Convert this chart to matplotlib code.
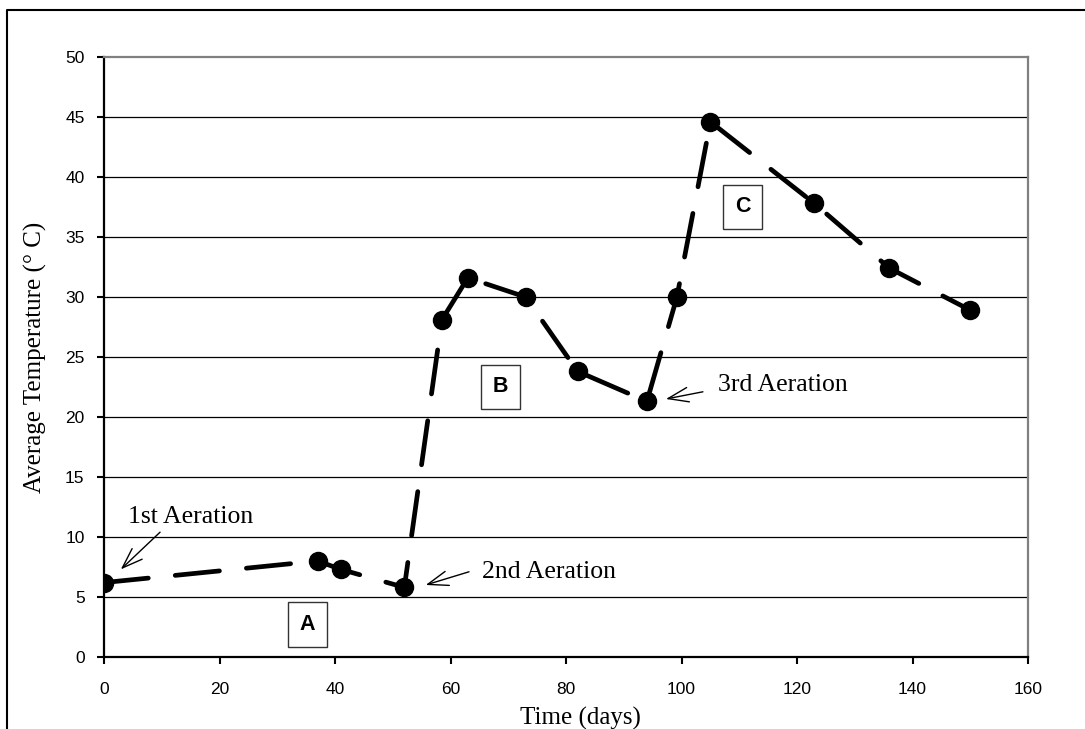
import matplotlib.pyplot as plt
from matplotlib.lines import Line2D

# average pile temperature over the composting run
days = [0, 37, 41, 52, 58.5, 63, 73, 82, 94, 99.2, 105, 123, 136, 150]
temperature = [6.2, 8.0, 7.3, 5.8, 28.1, 31.6, 30.0, 23.8, 21.3, 30.0, 44.6, 37.8, 32.4, 28.9]

# aeration events: (label, text x, text y, arrow tail, arrow head)
aerations = [
    ("1st Aeration", 4.2, 11.7, (9.7, 10.4), (2.9, 7.3)),
    ("2nd Aeration", 65.5, 7.1, (63.2, 7.1), (55.7, 6.0)),
    ("3rd Aeration", 106.3, 22.7, (103.7, 22.1), (97.3, 21.5)),
]

# phase markers
phases = ["A", "B", "C"]
phase_x = [35.2, 68.7, 110.6]
phase_y = [2.7, 22.5, 37.5]

x_ticks = list(range(0, 161, 20))
y_ticks = list(range(0, 51, 5))

plt.rcParams["lines.scale_dashes"] = False

fig = plt.figure(figsize=(10.85, 7.29), dpi=100)
ax = fig.add_axes([0.0959, 0.0988, 0.8516, 0.8230])

for y in y_ticks[1:-1]:
    ax.axhline(y, color="black", linewidth=0.9, zorder=1)

ax.plot(
    days,
    temperature,
    color="black",
    linewidth=3.4,
    linestyle=(0, (32, 19.5)),
    dash_capstyle="round",
    marker="o",
    markersize=13,
    zorder=3,
)

ax.set_xlim(0, 160)
ax.set_ylim(0, 50)
ax.set_xticks(x_ticks)
ax.set_yticks(y_ticks)
ax.tick_params(
    direction="out", length=5, width=1.5, color="black", labelsize=12.5,
    labelfontfamily="Liberation Sans",
)
ax.tick_params(axis="y", pad=9)
ax.tick_params(axis="x", pad=13)

for side in ["left", "bottom"]:
    ax.spines[side].set_color("black")
    ax.spines[side].set_linewidth(1.6)
for side in ["top", "right"]:
    ax.spines[side].set_color("#808080")
    ax.spines[side].set_linewidth(1.6)

ax.set_xlabel("Time (days)", family="Liberation Serif", fontsize=18)
ax.xaxis.set_label_coords(0.516, -0.083, transform=ax.transAxes)
ax.xaxis.label.set_va("top")
ax.set_ylabel("Average Temperature (° C)", family="Liberation Serif", fontsize=18, labelpad=13)

for label, tx, ty, tail, head in aerations:
    ax.text(tx, ty, label, family="Liberation Serif", fontsize=18.5, va="center", ha="left")
    ax.annotate(
        "",
        xy=head,
        xytext=tail,
        arrowprops=dict(
            arrowstyle="->,head_length=0.7,head_width=0.25",
            color="black",
            linewidth=1.0,
            mutation_scale=21,
            shrinkA=0,
            shrinkB=0,
        ),
    )

for name, px, py in zip(phases, phase_x, phase_y):
    ax.text(
        px, py, name,
        family="Liberation Sans", fontweight="bold", fontsize=15.5,
        ha="center", va="center", zorder=4,
        bbox=dict(boxstyle="square,pad=0.55", facecolor="white", edgecolor="#333333", linewidth=1.0),
    )

# frame around the whole figure (left and top edges only are in view)
fig.add_artist(Line2D([0.0065, 0.0065, 1.0], [0.0, 0.9863, 0.9863], color="black", linewidth=1.5))

fig.savefig("out.png", dpi=100)
